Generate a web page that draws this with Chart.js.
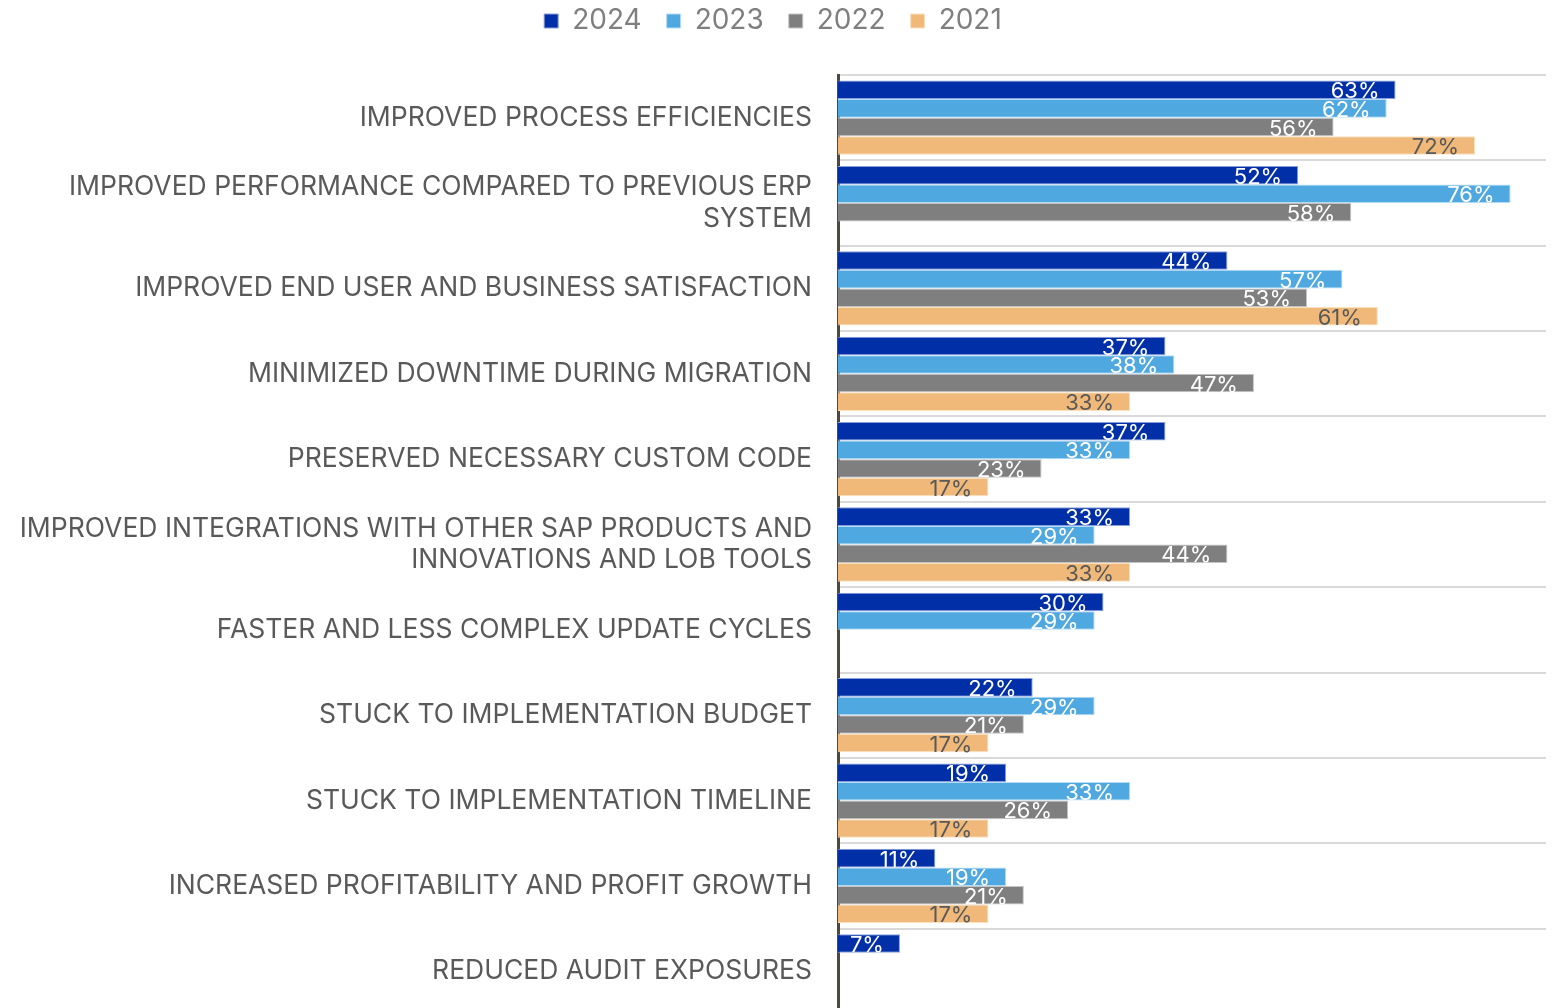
<!DOCTYPE html>
<html>
<head>
<meta charset="utf-8">
<script src="https://cdn.jsdelivr.net/npm/chart.js@4.4.1/dist/chart.umd.min.js"></script>
<style>
  html, body { margin: 0; padding: 0; background: #fff; overflow: hidden; }
  canvas { display: block; }
</style>
</head>
<body>
<canvas id="benefits-chart" width="1554" height="1014"></canvas>
<script>
// Datos
const categories = [
    'IMPROVED PROCESS EFFICIENCIES',
    ['IMPROVED PERFORMANCE COMPARED TO PREVIOUS ERP', 'SYSTEM'],
    'IMPROVED END USER AND BUSINESS SATISFACTION',
    'MINIMIZED DOWNTIME DURING MIGRATION',
    'PRESERVED NECESSARY CUSTOM CODE',
    ['IMPROVED INTEGRATIONS WITH OTHER SAP PRODUCTS AND', 'INNOVATIONS AND LOB TOOLS'],
    'FASTER AND LESS COMPLEX UPDATE CYCLES',
    'STUCK TO IMPLEMENTATION BUDGET',
    'STUCK TO IMPLEMENTATION TIMELINE',
    'INCREASED PROFITABILITY AND PROFIT GROWTH',
    'REDUCED AUDIT EXPOSURES'
];
const seriesNames = ['2024', '2023', '2022', '2021'];
const values2024 = [63, 52, 44, 37, 37, 33, 30, 22, 19, 11, 7];
const values2023 = [62, 76, 57, 38, 33, 29, 29, 29, 33, 19, null];
const values2022 = [56, 58, 53, 47, 23, 44, null, 21, 26, 21, null];
const values2021 = [72, null, 61, 33, 17, 33, null, 17, 17, 17, null];

const fillColors = ['#002fa7', '#4fa9e0', '#7f7f7f', '#f0b97a'];
const edgeColors = ['#8aa0dc', '#b4dcf5', '#c4c4c4', '#fbe1c0'];
const labelColors = ['#ffffff', '#ffffff', '#ffffff', '#595959'];
const FONT = 'Inter, "Noto Sans", sans-serif';

// Altura fija para la leyenda (deja el área del gráfico en y=75)
const legendHeight = {
    id: 'legendHeight',
    beforeInit(chart) {
        const legend = chart.legend;
        if (!legend) return;
        const origFit = legend.fit;
        legend.fit = function () {
            origFit.call(this);
            this.height = 93;
        };
    }
};

// Etiquetas de valor dentro del extremo de cada barra
const valueLabels = {
    id: 'valueLabels',
    afterDatasetsDraw(chart) {
        const ctx = chart.ctx;
        ctx.save();
        ctx.font = '22px ' + FONT;
        ctx.textAlign = 'right';
        ctx.textBaseline = 'middle';
        chart.data.datasets.forEach((ds, i) => {
            const meta = chart.getDatasetMeta(i);
            meta.data.forEach((bar, j) => {
                const v = ds.data[j];
                if (v === null || v === undefined) return;
                ctx.fillStyle = labelColors[i];
                ctx.fillText(v + '%', bar.x - 16, bar.y + 2);
            });
        });
        ctx.restore();
    }
};

const allSeries = [values2024, values2023, values2022, values2021];

new Chart(document.getElementById('benefits-chart'), {
    type: 'bar',
    data: {
        labels: categories,
        datasets: allSeries.map((vals, i) => ({
            label: seriesNames[i],
            data: vals,
            backgroundColor: fillColors[i],
            borderColor: edgeColors[i],
            borderWidth: 1,
            borderSkipped: 'start',
            barPercentage: 1,
            categoryPercentage: 0.87
        }))
    },
    options: {
        indexAxis: 'y',
        responsive: false,
        animation: false,
        layout: { autoPadding: false, padding: { top: -18, right: 8, bottom: 0, left: 0 } },
        plugins: {
            legend: {
                position: 'top',
                labels: {
                    font: { family: FONT, size: 28 },
                    color: '#7f7f7f',
                    boxWidth: 14,
                    boxHeight: 14,
                    padding: 25
                }
            },
            tooltip: { enabled: false }
        },
        scales: {
            x: {
                display: false,
                min: 0,
                max: 80
            },
            y: {
                afterFit(scale) {
                    scale.width = 838;
                    scale.paddingTop = 0;
                    scale.paddingBottom = 0;
                },
                grid: {
                    offset: true,
                    color: '#d9d9d9',
                    lineWidth: 2,
                    drawTicks: false
                },
                border: { color: '#4f483c', width: 3 },
                ticks: {
                    font: { family: FONT, size: 26.5 },
                    color: '#595959',
                    padding: 26,
                    autoSkip: false
                }
            }
        }
    },
    plugins: [legendHeight, valueLabels]
});
</script>
</body>
</html>
